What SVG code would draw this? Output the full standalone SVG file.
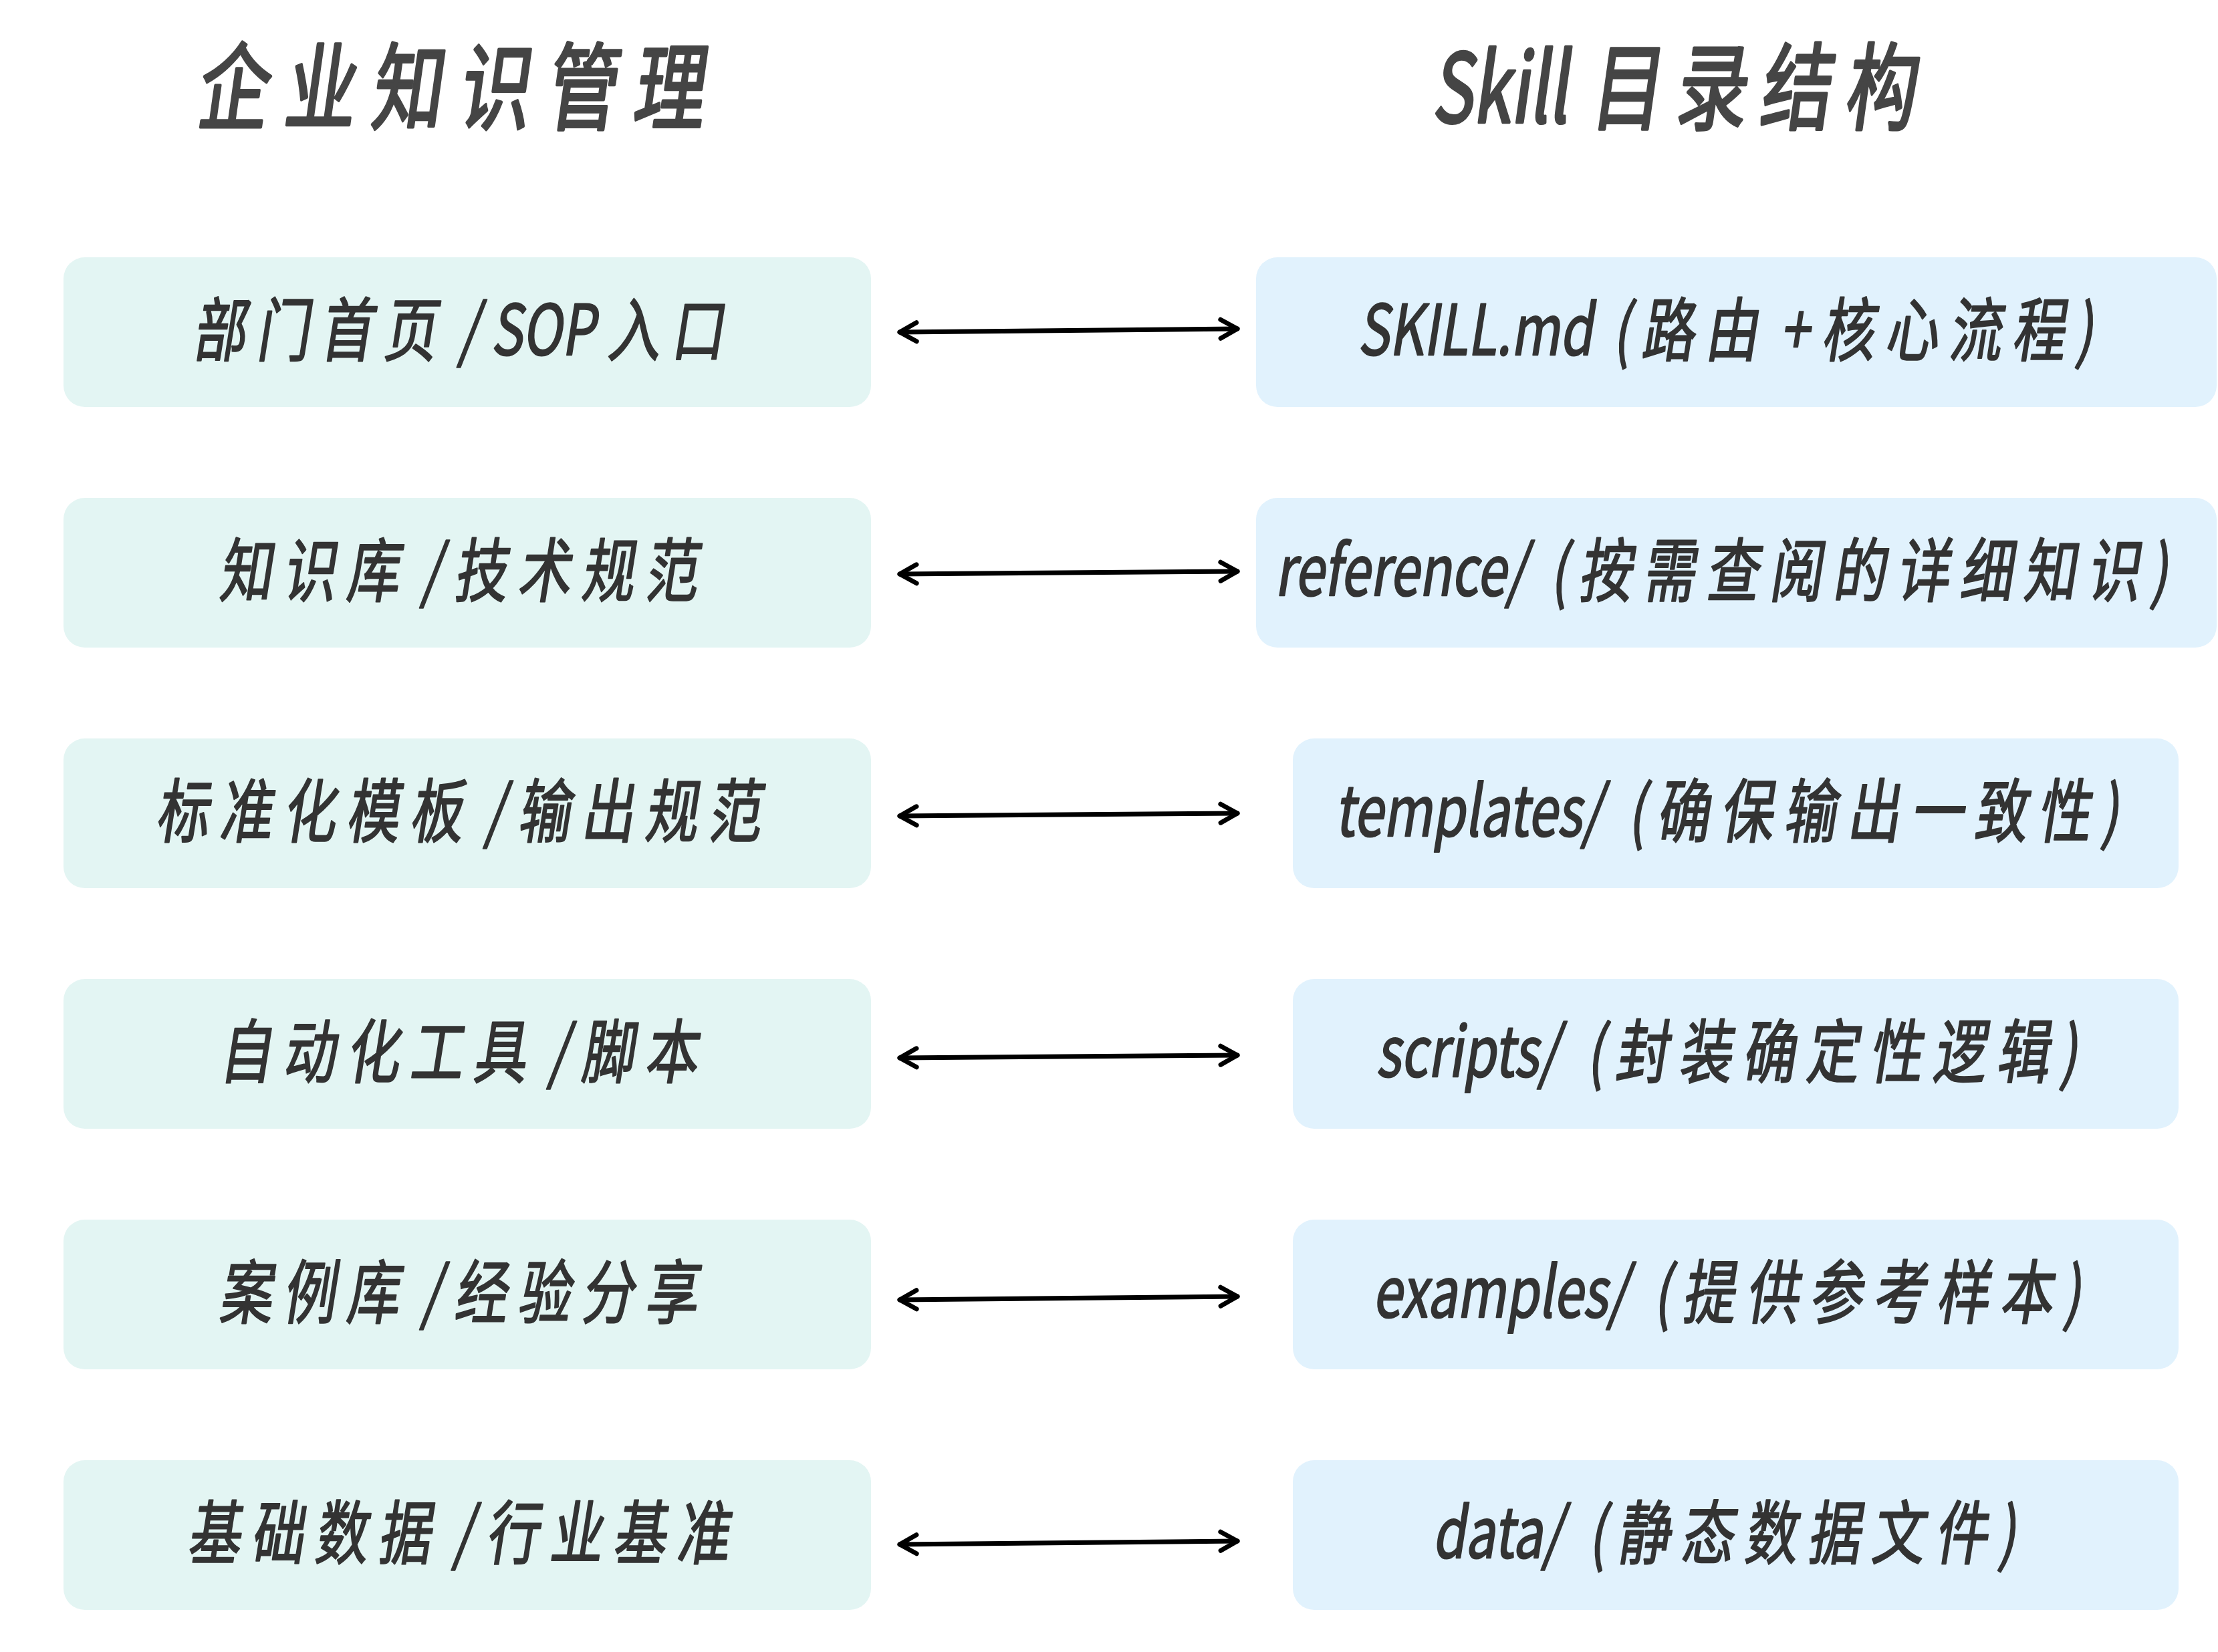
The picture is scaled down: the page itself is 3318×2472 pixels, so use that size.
<svg xmlns="http://www.w3.org/2000/svg" width="3318" height="2472" viewBox="0 0 3318 2472">
<defs>
<style>
.bg{fill:#ffffff}
.bl{fill:#E3F5F3}
.br{fill:#E1F2FD}
.t{font-family:"Noto Sans CJK SC","Noto Sans",sans-serif;font-size:104px;font-weight:400;fill:#333333;stroke:#333333;stroke-width:2.4;stroke-linejoin:round;text-anchor:middle;dominant-baseline:central}
.c{letter-spacing:21px}
.h{font-family:"Noto Sans CJK SC","Noto Sans",sans-serif;font-size:142px;font-weight:400;fill:#454545;stroke:#454545;stroke-width:4.5;stroke-linejoin:round;dominant-baseline:central}
.hs{text-anchor:start}
.he{text-anchor:end}
.ln{fill:none;stroke:#000000;stroke-width:7;stroke-linecap:round;marker-start:url(#ah);marker-end:url(#ah)}
</style>
<marker id="ah" markerUnits="userSpaceOnUse" viewBox="-32 -20 36 40" refX="0" refY="0" markerWidth="36" markerHeight="40" orient="auto-start-reverse">
<path d="M -25,-14 L 0,0 L -25,14" fill="none" stroke="#000000" stroke-width="7" stroke-linecap="round" stroke-linejoin="round"/>
</marker>
</defs>
<rect class="bg" x="0" y="0" width="3318" height="2472"/>

<g id="title-left"><text class="h hs" letter-spacing="32" transform="translate(301,121) skewX(-8) scale(0.75,1)">企业知识管理</text></g>
<g id="title-right"><text class="h he" transform="translate(2354,121) skewX(-8) scale(0.72,1)">Skill</text><text class="h hs" letter-spacing="27" transform="translate(2386,121) skewX(-8) scale(0.75,1)">目录结构</text></g>

<g id="node-l1"><rect class="bl" x="95" y="385" width="1208" height="224" rx="32"/><text class="t" transform="translate(700,486) skewX(-9) scale(0.76,1)"><tspan class="c">部门首页</tspan> / SOP <tspan class="c">入口</tspan></text></g>
<g id="node-l2"><rect class="bl" x="95" y="745" width="1208" height="224" rx="32"/><text class="t" transform="translate(700,846) skewX(-9) scale(0.76,1)"><tspan class="c">知识库</tspan> / <tspan class="c">技术规范</tspan></text></g>
<g id="node-l3"><rect class="bl" x="95" y="1105" width="1208" height="224" rx="32"/><text class="t" transform="translate(700,1206) skewX(-9) scale(0.76,1)"><tspan class="c">标准化模板</tspan> / <tspan class="c">输出规范</tspan></text></g>
<g id="node-l4"><rect class="bl" x="95" y="1465" width="1208" height="224" rx="32"/><text class="t" transform="translate(700,1566) skewX(-9) scale(0.76,1)"><tspan class="c">自动化工具</tspan> / <tspan class="c">脚本</tspan></text></g>
<g id="node-l5"><rect class="bl" x="95" y="1825" width="1208" height="224" rx="32"/><text class="t" transform="translate(700,1926) skewX(-9) scale(0.76,1)"><tspan class="c">案例库</tspan> / <tspan class="c">经验分享</tspan></text></g>
<g id="node-l6"><rect class="bl" x="95" y="2185" width="1208" height="224" rx="32"/><text class="t" transform="translate(700,2286) skewX(-9) scale(0.76,1)"><tspan class="c">基础数据</tspan> / <tspan class="c">行业基准</tspan></text></g>

<g id="node-r1"><rect class="br" x="1879" y="385" width="1437" height="224" rx="32"/><text class="t" transform="translate(2596,486) skewX(-9) scale(0.76,1)">SKILL.md <tspan class="c" dx="16">(路由</tspan> + <tspan class="c">核心流程)</tspan></text></g>
<g id="node-r2"><rect class="br" x="1879" y="745" width="1437" height="224" rx="32"/><text class="t" transform="translate(2590,846) skewX(-9) scale(0.76,1)">reference/ <tspan class="c" dx="22">(按需查阅的详细知识)</tspan></text></g>
<g id="node-r3"><rect class="br" x="1934" y="1105" width="1325" height="224" rx="32"/><text class="t" transform="translate(2598,1206) skewX(-9) scale(0.76,1)">templates/ <tspan class="c" dx="26">(确保输出一致性)</tspan></text></g>
<g id="node-r4"><rect class="br" x="1934" y="1465" width="1325" height="224" rx="32"/><text class="t" transform="translate(2598,1566) skewX(-9) scale(0.76,1)">scripts/ <tspan class="c" dx="30">(封装确定性逻辑)</tspan></text></g>
<g id="node-r5"><rect class="br" x="1934" y="1825" width="1325" height="224" rx="32"/><text class="t" transform="translate(2598,1926) skewX(-9) scale(0.76,1)">examples/ <tspan class="c" dx="26">(提供参考样本)</tspan></text></g>
<g id="node-r6"><rect class="br" x="1934" y="2185" width="1325" height="224" rx="32"/><text class="t" transform="translate(2594,2286) skewX(-9) scale(0.76,1)">data/ <tspan class="c" dx="26">(静态数据文件)</tspan></text></g>

<g id="connectors">
<line class="ln" x1="1346" y1="497" x2="1851" y2="492"/>
<line class="ln" x1="1346" y1="859" x2="1851" y2="855"/>
<line class="ln" x1="1346" y1="1221" x2="1851" y2="1217"/>
<line class="ln" x1="1346" y1="1583" x2="1851" y2="1579"/>
<line class="ln" x1="1346" y1="1945" x2="1851" y2="1940"/>
<line class="ln" x1="1346" y1="2311" x2="1851" y2="2306"/>
</g>
</svg>
